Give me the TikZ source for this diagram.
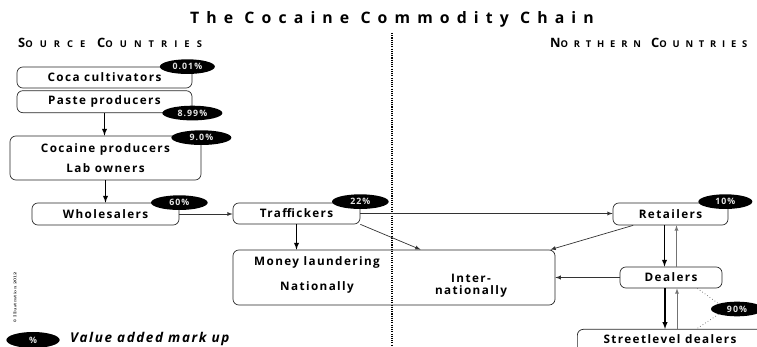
\documentclass[tikz,border=0pt]{standalone}
\usepackage{fontspec}
\setsansfont{Open Sans}
\newfontfamily\titlefont[LetterSpace=45]{Open Sans}
\newfontfamily\headfont[LetterSpace=75]{Open Sans}
\newfontfamily\northfont[LetterSpace=62]{Open Sans}
\newfontfamily\boxfont[LetterSpace=12]{Open Sans}
\usetikzlibrary{positioning,shapes.geometric}

\newcommand{\fakecaps}[2]{{\fontsize{11}{11}\selectfont #1}{\fontsize{8}{8}\selectfont #2}}

\tikzset{
  stage/.style={draw=black!85, rounded corners=5pt, line width=0.6pt, inner sep=0pt,
    font=\boxfont\bfseries\fontsize{10}{11}\selectfont},
  stagetext/.style={font=\boxfont\bfseries\fontsize{10}{11}\selectfont, inner sep=0pt},
  markup/.style={ellipse, fill=black, text=white!90!black, inner sep=0pt,
    minimum width=1.65cm, minimum height=0.44cm,
    font=\boxfont\bfseries\fontsize{7.5}{8}\selectfont},
  region/.style={font=\headfont\bfseries, anchor=west, inner sep=0pt},
  flow/.style={->, draw=black!80, line width=0.6pt},
  flowdown/.style={->, draw=black, line width=1pt},
  flowup/.style={->, draw=black!55, line width=0.6pt}
}

\begin{document}
\begin{tikzpicture}[x=0.03cm, y=-0.03cm, >=latex]
  \useasboundingbox (0,0) rectangle (757,347);

  \node[font=\titlefont\bfseries\fontsize{13.5}{14}\selectfont] (title) at (392,19) {The Cocaine Commodity Chain};
  \node[region] (sourceHead) at (18,43) {\fakecaps{S}{OURCE} \fakecaps{C}{OUNTRIES}};
  \node[region, font=\northfont\bfseries] (northHead) at (550,43) {\fakecaps{N}{ORTHERN} \fakecaps{C}{OUNTRIES}};
  \coordinate (borderTop) at (392,33);
  \coordinate (borderBottom) at (392,347);
  \draw[densely dotted, line width=0.9pt] (borderTop) -- (borderBottom);

  \node[stage, minimum width=5.25cm, minimum height=0.63cm] (cocaCultivators) at (104.5,77.5) {Coca cultivators};
  \node[stage, minimum width=5.25cm, minimum height=0.66cm, below = 0.06cm of cocaCultivators] (pasteProducers) {Paste producers};
  \node[stage, minimum width=5.73cm, minimum height=1.32cm, align=center] (cocaineProducers) at (105.5,158)
    {Cocaine producers\\[6pt]Lab owners};
  \node[stage, minimum width=4.41cm, minimum height=0.66cm] (wholesalers) at (105.5,214) {Wholesalers};
  \node[stage, minimum width=3.81cm, minimum height=0.63cm] (traffickers) at (296.5,213.5) {Traffickers};
  \node[stage, minimum width=3.45cm, minimum height=0.66cm] (retailers) at (670.5,214) {Retailers};
  \node[stage, minimum width=3.06cm, minimum height=0.63cm] (dealers) at (671,277.5) {Dealers};
  \node[stage, minimum width=9.66cm, minimum height=1.65cm] (moneyLaundering) at (394,277.5) {};
  \node[stagetext] (launderingTitle) at (317,262) {Money laundering};
  \node[stagetext] (launderingNational) at (317,287) {Nationally};
  \node[stagetext, align=center, font=\boxfont\bfseries\fontsize{10}{10}\selectfont] (launderingInternational) at (471,286)
    {Inter-\\nationally};
  \node[stage, minimum width=5.94cm, minimum height=0.9cm, anchor=north west] (streetlevel) at (577,329) {};
  \node[stagetext] (streetlevelText) at (670,339) {Streetlevel dealers};

  \node[markup] (markupCoca) at ([xshift=-0.15cm]cocaCultivators.north east) {0.01\%};
  \node[markup, minimum width=1.8cm] (markupPaste) at (pasteProducers.south east) {8.99\%};
  \node[markup, minimum width=1.8cm] (markupCocaine) at ([yshift=-0.06cm]cocaineProducers.north east) {9.0\%};
  \node[markup, minimum width=1.7cm] (markupWholesalers) at (wholesalers.north east) {60\%};
  \node[markup, minimum width=1.7cm] (markupTraffickers) at ([yshift=0.03cm]traffickers.north east) {22\%};
  \node[markup, minimum width=1.62cm] (markupRetailers) at ([xshift=-0.09cm,yshift=0.03cm]retailers.north east) {10\%};
  \node[markup, minimum width=1.56cm] (markupStreet) at (737,309) {90\%};

  \draw[flowdown] (pasteProducers.south) -- (pasteProducers.south |- cocaineProducers.north);
  \draw[flowdown] (cocaineProducers.south) -- (cocaineProducers.south |- wholesalers.north);
  \draw[flow] (wholesalers.east) -- (wholesalers.east -| traffickers.west);
  \draw[flow] (traffickers.east) -- (traffickers.east -| retailers.west);
  \draw[flowdown] (traffickers.south) -- (traffickers.south |- moneyLaundering.north);
  \draw[flow] (traffickers.south east) -- ([xshift=0.8cm]moneyLaundering.north);
  \draw[flow] ([xshift=-1.12cm]retailers.south) -- ([xshift=-0.15cm]moneyLaundering.north east);
  \draw[flow] (dealers.west) -- (dealers.west -| moneyLaundering.east);

  \coordinate (retailersDown) at ([xshift=-0.18cm]retailers.south);
  \coordinate (retailersUp) at ([xshift=0.18cm]retailers.south);
  \coordinate (dealersDown) at ([xshift=-0.18cm]dealers.south);
  \coordinate (dealersUp) at ([xshift=0.18cm]dealers.south);
  \draw[flowdown] (retailersDown) -- (retailersDown |- dealers.north);
  \draw[flowup] (retailersUp |- dealers.north) -- (retailersUp);
  \draw[flowdown] (dealersDown) -- (dealersDown |- streetlevel.north);
  \draw[flowup] (dealersUp |- streetlevel.north) -- (dealersUp);

  \draw[dotted, draw=black!60, line width=0.6pt] ([xshift=-0.75cm]dealers.south east) -- (markupStreet.north west);
  \draw[dotted, draw=black!60, line width=0.6pt] (markupStreet.south west) -- ([xshift=0.6cm]streetlevel.north);

  \node[markup, minimum width=1.6cm, minimum height=0.48cm] (legendMark) at (33,340) {\%};
  \node[anchor=west, inner sep=0pt, font=\boxfont\bfseries\itshape\fontsize{11.5}{12}\selectfont] (legendText)
    at (70,339) {Value added mark up};
  \node[rotate=90, inner sep=0pt, font=\fontsize{3.5}{4}\selectfont\bfseries] (credit) at (15,297) {\textcopyright{} Illustration 2012};
\end{tikzpicture}
\end{document}
